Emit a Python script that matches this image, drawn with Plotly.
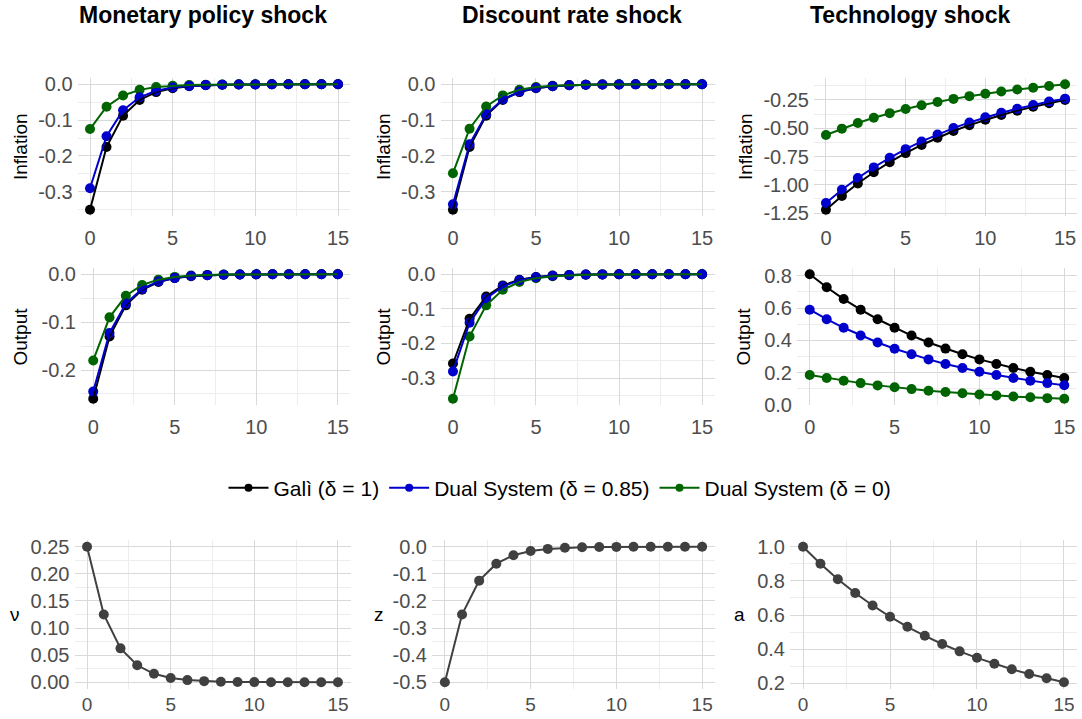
import plotly.graph_objects as go

W, H = 1082, 719

periods = list(range(16))

# ---- Monetary policy shock ----
mp_infl_gali = [-0.350, -0.175, -0.0875, -0.0438, -0.0219, -0.0109, -0.0055, -0.0027, -0.0014, -0.0007, -0.0003, -0.0002, -0.0001, 0.0, 0.0, 0.0]
mp_infl_d085 = [-0.290, -0.145, -0.0725, -0.0363, -0.0181, -0.0091, -0.0045, -0.0023, -0.0011, -0.0006, -0.0003, -0.0001, -0.0001, 0.0, 0.0, 0.0]
mp_infl_d0 = [-0.125, -0.0625, -0.0313, -0.0156, -0.0078, -0.0039, -0.0020, -0.0010, -0.0005, -0.0002, -0.0001, 0.0, 0.0, 0.0, 0.0, 0.0]
mp_out_gali = [-0.260, -0.130, -0.065, -0.0325, -0.0163, -0.0081, -0.0041, -0.0020, -0.0010, -0.0005, -0.0003, -0.0001, -0.0001, 0.0, 0.0, 0.0]
mp_out_d085 = [-0.245, -0.1225, -0.0613, -0.0306, -0.0153, -0.0077, -0.0038, -0.0019, -0.0010, -0.0005, -0.0002, -0.0001, -0.0001, 0.0, 0.0, 0.0]
mp_out_d0 = [-0.180, -0.090, -0.045, -0.0225, -0.0113, -0.0056, -0.0028, -0.0014, -0.0007, -0.0004, -0.0002, -0.0001, 0.0, 0.0, 0.0, 0.0]
nu_shock = [0.250, 0.125, 0.0625, 0.0313, 0.0156, 0.0078, 0.0039, 0.0020, 0.0010, 0.0005, 0.0002, 0.0001, 0.0001, 0.0, 0.0, 0.0]

# ---- Discount rate shock ----
dr_infl_gali = [-0.350, -0.175, -0.0875, -0.0438, -0.0219, -0.0109, -0.0055, -0.0027, -0.0014, -0.0007, -0.0003, -0.0002, -0.0001, 0.0, 0.0, 0.0]
dr_infl_d085 = [-0.335, -0.167, -0.0838, -0.0419, -0.0209, -0.0105, -0.0052, -0.0026, -0.0013, -0.0007, -0.0003, -0.0002, -0.0001, 0.0, 0.0, 0.0]
dr_infl_d0 = [-0.248, -0.124, -0.062, -0.031, -0.0155, -0.0078, -0.0039, -0.0019, -0.0010, -0.0005, -0.0002, -0.0001, -0.0001, 0.0, 0.0, 0.0]
dr_out_gali = [-0.258, -0.129, -0.0645, -0.0323, -0.0161, -0.0081, -0.0040, -0.0020, -0.0010, -0.0005, -0.0003, -0.0001, -0.0001, 0.0, 0.0, 0.0]
dr_out_d085 = [-0.281, -0.1405, -0.0703, -0.0351, -0.0176, -0.0088, -0.0044, -0.0022, -0.0011, -0.0005, -0.0003, -0.0001, -0.0001, 0.0, 0.0, 0.0]
dr_out_d0 = [-0.360, -0.180, -0.090, -0.045, -0.0225, -0.0113, -0.0056, -0.0028, -0.0014, -0.0007, -0.0004, -0.0002, -0.0001, 0.0, 0.0, 0.0]
z_shock = [-0.500, -0.250, -0.125, -0.0625, -0.0313, -0.0156, -0.0078, -0.0039, -0.0020, -0.0010, -0.0005, -0.0002, -0.0001, -0.0001, 0.0, 0.0]

# ---- Technology shock ----
tech_infl_gali = [-1.220, -1.098, -0.988, -0.889, -0.800, -0.720, -0.648, -0.584, -0.525, -0.473, -0.425, -0.383, -0.345, -0.310, -0.279, -0.251]
tech_infl_d085 = [-1.160, -1.044, -0.940, -0.846, -0.761, -0.685, -0.617, -0.555, -0.499, -0.449, -0.404, -0.364, -0.328, -0.295, -0.265, -0.239]
tech_infl_d0 = [-0.560, -0.504, -0.454, -0.408, -0.367, -0.331, -0.298, -0.268, -0.241, -0.217, -0.195, -0.176, -0.158, -0.142, -0.128, -0.112]
tech_out_gali = [0.810, 0.729, 0.656, 0.590, 0.531, 0.478, 0.430, 0.387, 0.349, 0.314, 0.282, 0.254, 0.229, 0.206, 0.185, 0.167]
tech_out_d085 = [0.590, 0.531, 0.478, 0.430, 0.387, 0.348, 0.314, 0.282, 0.254, 0.229, 0.206, 0.185, 0.167, 0.150, 0.135, 0.122]
tech_out_d0 = [0.185, 0.167, 0.150, 0.135, 0.121, 0.109, 0.098, 0.088, 0.080, 0.072, 0.064, 0.058, 0.052, 0.047, 0.042, 0.038]
a_shock = [1.000, 0.900, 0.810, 0.729, 0.656, 0.590, 0.531, 0.478, 0.430, 0.387, 0.349, 0.314, 0.282, 0.254, 0.229, 0.206]

column_titles = ["Monetary policy shock", "Discount rate shock", "Technology shock"]
series_names = ["Galì (δ = 1)", "Dual System (δ = 0.85)", "Dual System (δ = 0)"]
series_colors = ["#000000", "#0000CD", "#006400"]
shock_color = "#404040"

x_ticks = [0, 5, 10, 15]
x_minor = [2.5, 7.5, 12.5]

# panels: (row, col, y-title, series, yticks, decimals)
panels = [
    (0, 0, "Inflation", [mp_infl_gali, mp_infl_d085, mp_infl_d0], [0.0, -0.1, -0.2, -0.3], 1),
    (0, 1, "Inflation", [dr_infl_gali, dr_infl_d085, dr_infl_d0], [0.0, -0.1, -0.2, -0.3], 1),
    (0, 2, "Inflation", [tech_infl_gali, tech_infl_d085, tech_infl_d0], [-0.25, -0.50, -0.75, -1.00, -1.25], 2),
    (1, 0, "Output", [mp_out_gali, mp_out_d085, mp_out_d0], [0.0, -0.1, -0.2], 1),
    (1, 1, "Output", [dr_out_gali, dr_out_d085, dr_out_d0], [0.0, -0.1, -0.2, -0.3], 1),
    (1, 2, "Output", [tech_out_gali, tech_out_d085, tech_out_d0], [0.0, 0.2, 0.4, 0.6, 0.8], 1),
    (2, 0, "ν", [nu_shock], [0.00, 0.05, 0.10, 0.15, 0.20, 0.25], 2),
    (2, 1, "z", [z_shock], [0.0, -0.1, -0.2, -0.3, -0.4, -0.5], 1),
    (2, 2, "a", [a_shock], [0.2, 0.4, 0.6, 0.8, 1.0], 1),
]

# layout geometry in pixels (panel boxes)
row_y = [(78, 216), (268, 405), (540, 689)]
x_standoff = [8, 8, 2]
col_x = {
    (0, 0): (77.6, 350.4), (0, 1): (440.5, 714.5), (0, 2): (814, 1077),
    (1, 0): (81, 350), (1, 1): (440.5, 714.5), (1, 2): (797, 1077),
    (2, 0): (74.5, 350.5), (2, 1): (432, 715), (2, 2): (790, 1077),
}
ytitle_x = {
    (0, 0): 20, (0, 1): 383, (0, 2): 745,
    (1, 0): 20, (1, 1): 383, (1, 2): 743,
    (2, 0): 15, (2, 1): 379, (2, 2): 739,
}

FONT = "Liberation Sans, Arial, sans-serif"
TICK_COLOR = "#4D4D4D"
MAJOR_GRID = "#D9D9D9"
MINOR_GRID = "#EDEDED"

fig = go.Figure()
annotations = []
layout_axes = {}


def fmt(v, d):
    s = f"{abs(v):.{d}f}"
    return ("-" + s) if v < 0 and float(s) != 0 else s


for idx, (r, c, ytitle, series, yticks, dec) in enumerate(panels):
    n = idx + 1
    xa = "x" if n == 1 else f"x{n}"
    ya = "y" if n == 1 else f"y{n}"
    allv = [v for s in series for v in s]
    lo, hi = min(allv), max(allv)
    pad = (hi - lo) * 0.05
    yr = [lo - pad, hi + pad]
    step = abs(yticks[1] - yticks[0])
    ys = sorted(yticks)
    yminor = [ys[0] - step / 2] + [v + step / 2 for v in ys]

    x0, x1 = col_x[(r, c)]
    y0, y1 = row_y[r]
    layout_axes["xaxis" if n == 1 else f"xaxis{n}"] = dict(
        domain=[x0 / W, x1 / W], anchor=ya, range=[-0.75, 15.75],
        tickvals=x_ticks, ticktext=[str(v) for v in x_ticks],
        showgrid=True, gridcolor=MAJOR_GRID, gridwidth=1, zeroline=False,
        showline=False, ticks="", ticklabelstandoff=x_standoff[r], automargin=False,
        tickfont=dict(family=FONT, size=20 if r < 2 else 19, color=TICK_COLOR),
        minor=dict(tickvals=x_minor, showgrid=True, gridcolor=MINOR_GRID, gridwidth=1, ticks=""),
    )
    layout_axes["yaxis" if n == 1 else f"yaxis{n}"] = dict(
        domain=[1 - y1 / H, 1 - y0 / H], anchor=xa, range=yr,
        tickvals=yticks, ticktext=[fmt(v, dec) for v in yticks],
        showgrid=True, gridcolor=MAJOR_GRID, gridwidth=1, zeroline=False,
        showline=False, ticks="", ticklabelstandoff=4, automargin=False,
        tickfont=dict(family=FONT, size=20, color=TICK_COLOR),
        minor=dict(tickvals=yminor, showgrid=True, gridcolor=MINOR_GRID, gridwidth=1, ticks=""),
    )
    annotations.append(dict(
        text=ytitle, x=ytitle_x[(r, c)] / W, y=1 - ((y0 + y1) / 2) / H,
        xref="paper", yref="paper", showarrow=False,
        textangle=-90 if r < 2 else 0,
        font=dict(family=FONT, size=19, color="#000000"),
        xanchor="center", yanchor="middle",
    ))

    if len(series) == 3:
        for si in [2, 0, 1]:
            fig.add_trace(go.Scatter(
                x=periods, y=series[si], mode="markers", xaxis=xa, yaxis=ya,
                marker=dict(color=series_colors[si], size=10),
                showlegend=False, hoverinfo="skip"))
        for si in [0, 1, 2]:
            fig.add_trace(go.Scatter(
                x=periods, y=series[si], mode="lines", xaxis=xa, yaxis=ya,
                line=dict(color=series_colors[si], width=2),
                showlegend=False, hoverinfo="skip"))
    else:
        fig.add_trace(go.Scatter(
            x=periods, y=series[0], mode="lines+markers", xaxis=xa, yaxis=ya,
            line=dict(color=shock_color, width=2),
            marker=dict(color=shock_color, size=10),
            showlegend=False, hoverinfo="skip"))

# legend-only traces
for name, col in zip(series_names, series_colors):
    fig.add_trace(go.Scatter(
        x=[None], y=[None], mode="lines+markers", name=name,
        line=dict(color=col, width=2), marker=dict(color=col, size=8),
        xaxis="x", yaxis="y", showlegend=True))

for title, cx in zip(column_titles, [203, 572, 910]):
    annotations.append(dict(
        text=f"<b>{title}</b>", x=cx / W, y=1 - 15 / H, xref="paper", yref="paper",
        showarrow=False, xanchor="center", yanchor="middle",
        font=dict(family=FONT, size=23, color="#000000"),
    ))

fig.update_layout(
    width=W, height=H,
    margin=dict(l=0, r=0, t=0, b=0, autoexpand=False),
    paper_bgcolor="white", plot_bgcolor="white",
    annotations=annotations,
    showlegend=True,
    legend=dict(
        orientation="h", x=560 / W, y=1 - 488 / H, xanchor="center", yanchor="middle",
        font=dict(family=FONT, size=21, color="#000000"),
        itemwidth=40, tracegroupgap=0, bgcolor="rgba(0,0,0,0)",
    ),
    **layout_axes,
)

fig.write_html(
    "out.html",
    config={"displayModeBar": False},
    post_script="document.body.style.margin='0px';document.body.style.overflow='hidden';",
)
